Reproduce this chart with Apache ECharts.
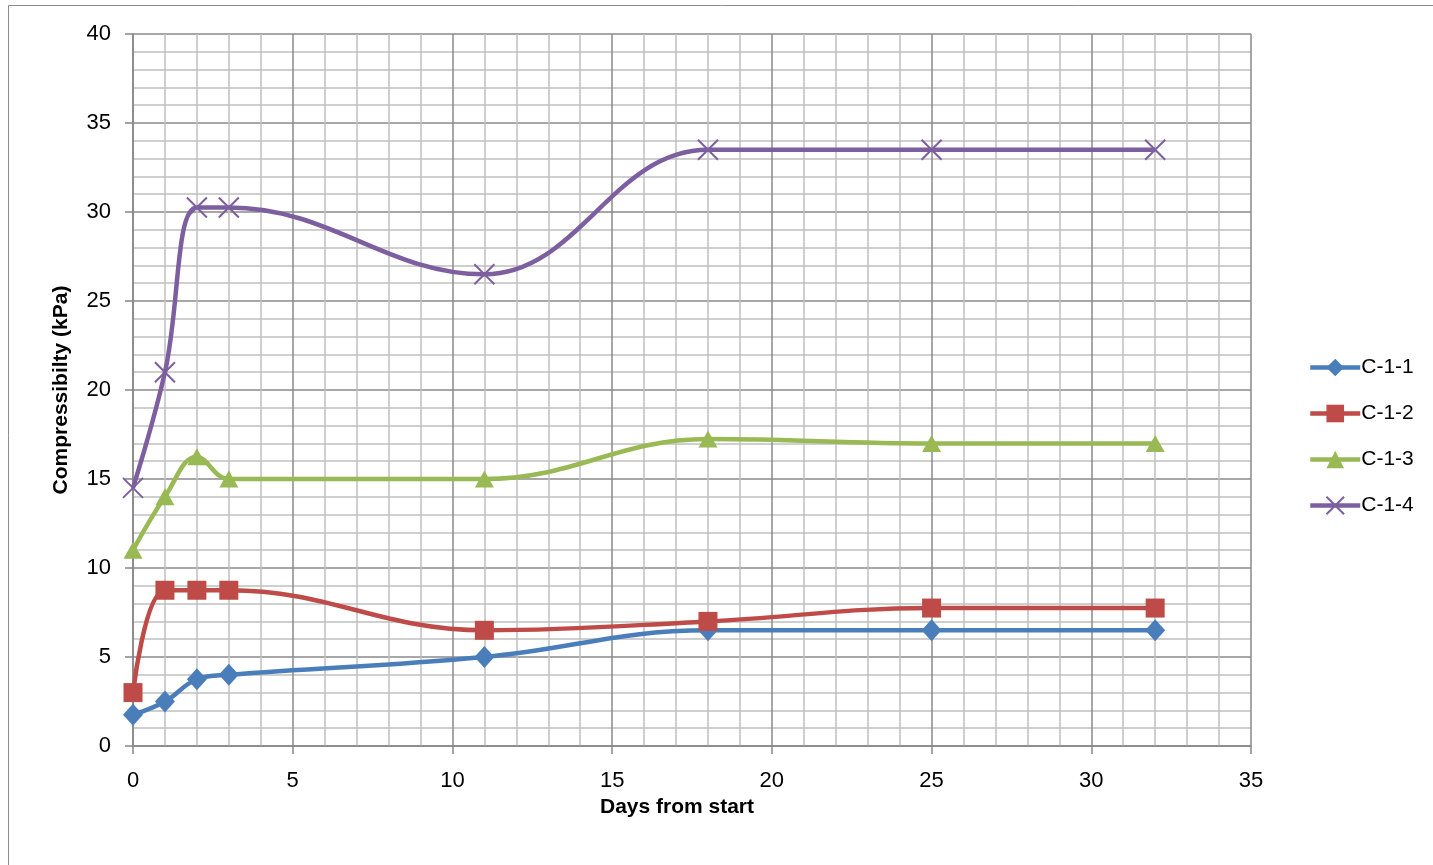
<!DOCTYPE html>
<html>
<head>
<meta charset="utf-8">
<script src="https://cdn.jsdelivr.net/npm/echarts@6/dist/echarts.min.js"></script>
<style>
  html, body { margin: 0; padding: 0; background: #fff; }
  #chart { width: 1433px; height: 865px; }
</style>
</head>
<body>
<div id="chart"></div>
<script>
// Measurement days and compressibility readings (kPa) for each sample
const days = [0, 1, 2, 3, 11, 18, 25, 32];
const seriesNames = ['C-1-1', 'C-1-2', 'C-1-3', 'C-1-4'];
const c11 = [1.75, 2.5, 3.75, 4.0, 5.0, 6.5, 6.5, 6.5];
const c12 = [3.0, 8.75, 8.75, 8.75, 6.5, 7.0, 7.75, 7.75];
const c13 = [11.0, 14.0, 16.25, 15.0, 15.0, 17.25, 17.0, 17.0];
const c14 = [14.5, 21.0, 30.25, 30.25, 26.5, 33.5, 33.5, 33.5];

const colors = ['#4A7EBB', '#BE4B48', '#98B954', '#7D5FA0'];
const symbols = ['diamond', 'rect', 'triangle', 'path://M0,0L10,10M10,0L0,10'];
const symbolSizes = [[20, 22], 19, [19, 17], 20];
const values = [c11, c12, c13, c14];

const font = 'Liberation Sans, Arial, sans-serif';

const chart = echarts.init(document.getElementById('chart'));

const series = seriesNames.map((name, i) => ({
  name: name,
  type: 'line',
  smooth: 0.4,
  data: days.map((d, k) => [d, values[i][k]]),
  symbol: symbols[i],
  symbolSize: symbolSizes[i],
  showAllSymbol: true,
  lineStyle: { color: colors[i], width: 4.5 },
  itemStyle: i === 3
    ? { color: colors[i], borderColor: colors[i], borderWidth: 2 }
    : { color: colors[i], borderColor: colors[i], borderWidth: 0 },
  emphasis: { disabled: true },
  z: 3 + i
}));

chart.setOption({
  animation: false,
  backgroundColor: '#ffffff',
  graphic: [{
    type: 'rect',
    shape: { x: 8.5, y: 5.5, width: 1440, height: 880 },
    style: { fill: 'none', stroke: '#8c8c8c', lineWidth: 1 },
    silent: true
  }],
  grid: { left: 133, right: 182, top: 34, bottom: 119, containLabel: false },
  legend: {
    orient: 'vertical',
    left: 1303,
    top: 352,
    itemGap: 25,
    itemWidth: 50,
    itemHeight: 22,
    lineStyle: { width: 4.5 },
    textStyle: { fontFamily: font, fontSize: 21, color: '#000', padding: [0, 0, 0, -4] },
    data: seriesNames
  },
  xAxis: {
    type: 'value',
    min: 0,
    max: 35,
    interval: 5,
    name: 'Days from start',
    nameLocation: 'middle',
    nameGap: 51,
    nameTextStyle: { fontFamily: font, fontSize: 21, fontWeight: 'bold', color: '#000', padding: [0, 30, 0, 0] },
    axisLine: { show: true, lineStyle: { color: '#868686', width: 1.5 } },
    axisTick: { show: true, length: 8, lineStyle: { color: '#868686', width: 1.5 } },
    axisLabel: { fontFamily: font, fontSize: 22, color: '#000', margin: 24 },
    splitLine: { show: true, lineStyle: { color: '#8a8a8a', width: 1.5 } },
    minorTick: { show: false, splitNumber: 5 },
    minorSplitLine: { show: true, lineStyle: { color: '#c0c0c0', width: 1.5 } }
  },
  yAxis: {
    type: 'value',
    min: 0,
    max: 40,
    interval: 5,
    name: 'Compressibilty (kPa)',
    nameLocation: 'middle',
    nameGap: 61,
    nameTextStyle: { fontFamily: font, fontSize: 21, fontWeight: 'bold', color: '#000' },
    axisLine: { show: true, lineStyle: { color: '#868686', width: 1.5 } },
    axisTick: { show: true, length: 8, lineStyle: { color: '#868686', width: 1.5 } },
    axisLabel: { fontFamily: font, fontSize: 22, color: '#000', margin: 22 },
    splitLine: { show: true, lineStyle: { color: '#8a8a8a', width: 1.5 } },
    minorTick: { show: false, splitNumber: 5 },
    minorSplitLine: { show: true, lineStyle: { color: '#c0c0c0', width: 1.5 } }
  },
  series: series
});
</script>
</body>
</html>
